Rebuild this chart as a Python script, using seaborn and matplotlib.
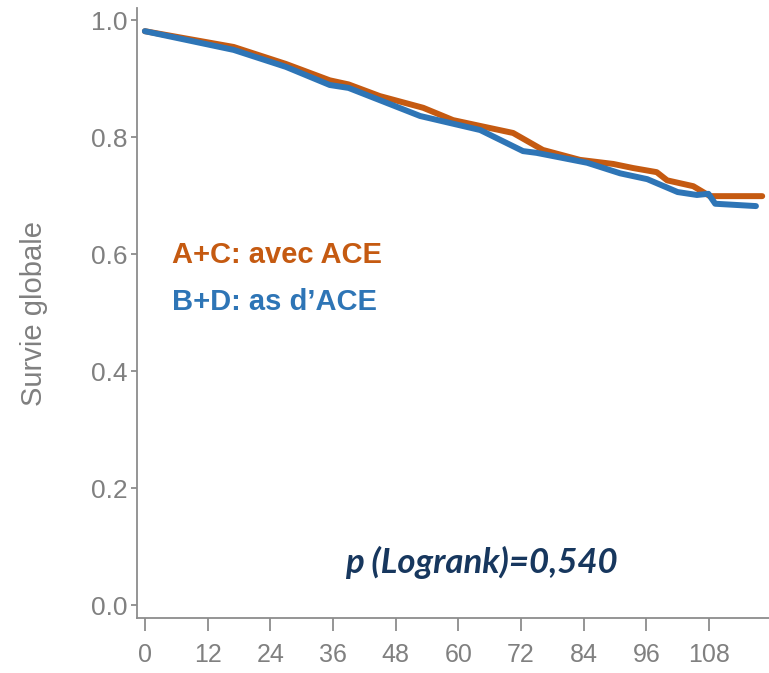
import numpy as np
import pandas as pd
import matplotlib
matplotlib.use("Agg")
import matplotlib.pyplot as plt
import seaborn as sns

# courbes (mois, survie globale)
mois_ac = [0, 17, 27, 35.4, 39, 45, 53.3, 59, 64.2, 70.5, 76.2, 83.3, 89.7,
           93.5, 98, 100, 105, 108.2, 118.2]
surv_ac = [0.981, 0.954, 0.925, 0.897, 0.890, 0.870, 0.850, 0.829, 0.819,
           0.807, 0.778, 0.761, 0.754, 0.747, 0.740, 0.726, 0.716, 0.699, 0.699]

mois_bd = [0, 17, 27, 35.4, 39, 45, 52.7, 64.2, 72.4, 75, 84.7, 91, 96.2,
           102, 105.7, 107.9, 109.2, 117]
surv_bd = [0.981, 0.949, 0.920, 0.889, 0.884, 0.863, 0.836, 0.812, 0.776,
           0.773, 0.756, 0.738, 0.728, 0.706, 0.701, 0.703, 0.686, 0.682]

groupes = ["A+C: avec ACE", "B+D: as d\u2019ACE"]
couleurs = ["#C55A11", "#2E75B6"]
x_ticks = [0, 12, 24, 36, 48, 60, 72, 84, 96, 108]
y_ticks = [0.0, 0.2, 0.4, 0.6, 0.8, 1.0]
p_texte = "p (Logrank)=0,540"

df = pd.concat([
    pd.DataFrame({"mois": mois_ac, "survie": surv_ac, "groupe": groupes[0]}),
    pd.DataFrame({"mois": mois_bd, "survie": surv_bd, "groupe": groupes[1]}),
])

sns.set_style("ticks")
plt.rcParams["font.family"] = ["Liberation Sans", "DejaVu Sans"]

fig = plt.figure(figsize=(7.69, 6.73), dpi=100)
ax = fig.add_axes([0.178, 0.0817, 0.822, 0.9063])

sns.lineplot(data=df, x="mois", y="survie", hue="groupe", palette=couleurs,
             estimator=None, sort=False, linewidth=4.3, legend=False, ax=ax)

ax.set_xlim(-1.53, 119.5)
ax.set_ylim(-0.0222, 1.0205)
ax.set_xticks(x_ticks)
ax.set_yticks(y_ticks)
ax.set_yticklabels([f"{v:.1f}" for v in y_ticks])
ax.set_xlabel("")
ax.set_ylabel("Survie globale", fontsize=21, color="#808080", labelpad=31)

gris = "#8C8C8C"
for s in ["left", "bottom"]:
    ax.spines[s].set_color(gris)
    ax.spines[s].set_linewidth(1.3)
for s in ["top", "right"]:
    ax.spines[s].set_visible(False)
ax.tick_params(axis="x", length=9, width=1.3, color=gris, labelcolor="#808080",
               labelsize=18, pad=9)
ax.tick_params(axis="y", length=4.5, width=1.3, color=gris, labelcolor="#808080",
               labelsize=19, pad=2)

ax.text(5.2, 0.598, groupes[0], color=couleurs[0], fontsize=21,
        fontweight="bold", va="center", ha="left")
ax.text(5.2, 0.518, groupes[1], color=couleurs[1], fontsize=21,
        fontweight="bold", va="center", ha="left")

ax.text(64.4, 0.072, p_texte, color="#17375E", fontsize=25, fontweight="bold",
        fontstyle="italic", family=["Lato", "DejaVu Sans"], ha="center", va="center")

fig.savefig("out.png", dpi=100)
